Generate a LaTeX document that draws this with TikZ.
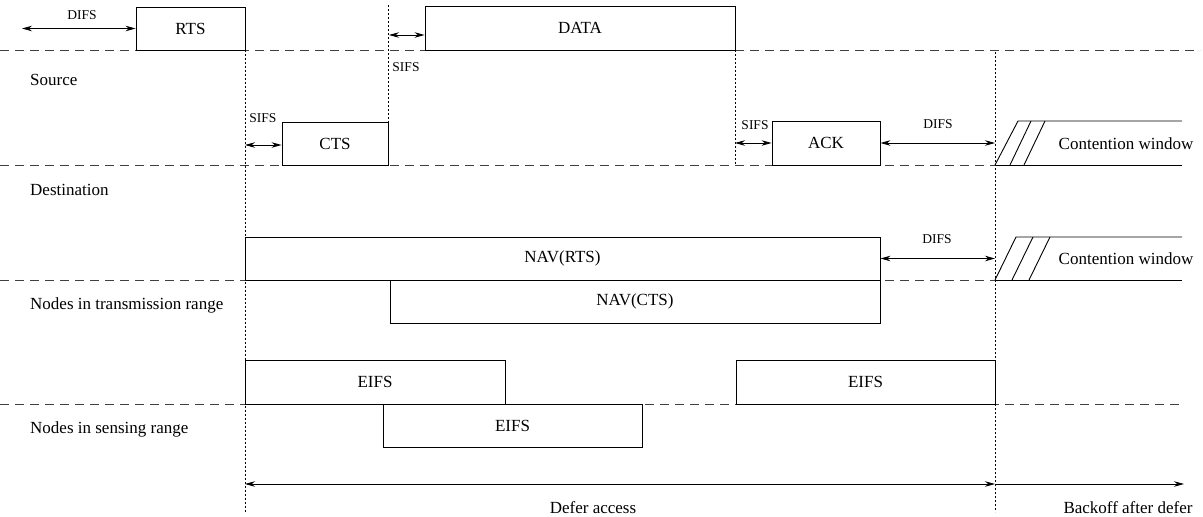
\documentclass[tikz,border=0pt]{standalone}
\usepackage{fontspec}
\setmainfont{Liberation Serif}
\usetikzlibrary{arrows.meta}
\begin{document}
\begin{tikzpicture}[x=1pt,y=-1pt,
  box/.style={draw, line width=0.9pt, inner sep=0pt, font=\fontsize{17}{20}\selectfont},
  lbl/.style={font=\fontsize{17}{20}\selectfont, inner sep=0pt},
  small/.style={font=\fontsize{13.5}{16}\selectfont, inner sep=0pt},
  row/.style={dash pattern=on 9pt off 6pt, line width=1pt, black!75},
  vdot/.style={dash pattern=on 2pt off 2pt, line width=0.7pt},
  dbl/.style={{Stealth[length=10pt,width=5.5pt]}-{Stealth[length=10pt,width=5.5pt]}, line width=0.8pt},
  one/.style={-{Stealth[length=10pt,width=5.5pt]}, line width=0.8pt},
  cw/.style={line width=0.9pt}
]
\useasboundingbox (0,0) rectangle (1203,517);

% row separators
\draw[row] (0,50) -- (1200,50);
\draw[row] (0,165) -- (995,165);
\draw[row] (0,280) -- (995,280);
\draw[row] (0,404) -- (1180,404);

% vertical dotted guides
\draw[vdot] (245,50) -- (245,512);
\draw[vdot] (388,5) -- (388,122);
\draw[vdot] (735,50) -- (735,165);
\draw[vdot] (995,52) -- (995,512);

% row labels
\node[lbl, anchor=west] (src) at (30,80) {Source};
\node[lbl, anchor=west] (dst) at (30,190) {Destination};
\node[lbl, anchor=west] (trn) at (30,305) {Nodes in transmission range};
\node[lbl, anchor=west] (sns) at (30,429) {Nodes in sensing range};

% frames
\node[box, minimum width=109pt, minimum height=43pt] (rts) at (190.5,28.5) {RTS};
\node[box, minimum width=310pt, minimum height=44pt] (data) at (580,28) {DATA};
\node[box, minimum width=106pt, minimum height=43pt] (cts) at (335,143.5) {CTS};
\node[box, minimum width=108pt, minimum height=44pt] (ack) at (826,143) {ACK};
\node[box, minimum width=635pt, minimum height=43pt] (navrts) at (562.5,258.5) {NAV(RTS)};
\node[box, minimum width=490pt, minimum height=43pt] (navcts) at (635,301.5) {NAV(CTS)};
\node[box, minimum width=260pt, minimum height=44pt] (eifsa) at (375,382) {EIFS};
\node[box, minimum width=259pt, minimum height=43pt] (eifsb) at (512.5,425.5) {EIFS};
\node[box, minimum width=259pt, minimum height=44pt] (eifsc) at (865.5,382) {EIFS};

% interframe spaces
\coordinate (v995) at (995,0);
\coordinate (d0) at (22,28.5);
\draw[dbl] (d0) -- (rts.west);
\node[small] (difs0) at (82,15) {DIFS};

\coordinate (s1) at (389,35);
\draw[dbl] (s1) -- (s1 -| data.west);
\node[small] (sifs1) at (406,67) {SIFS};

\coordinate (s2) at (245,145);
\draw[dbl] (s2) -- (s2 -| cts.west);
\node[small] (sifs2) at (263,118) {SIFS};

\coordinate (s3) at (735,143);
\draw[dbl] (s3) -- (s3 -| ack.west);
\node[small] (sifs3) at (755,125) {SIFS};

\draw[dbl] (ack.east) -- (ack.east -| v995);
\node[small] (difs1) at (938,124) {DIFS};

\draw[dbl] (navrts.east) -- (navrts.east -| v995);
\node[small] (difs2) at (937,239) {DIFS};

% contention windows
\draw[cw] (995,165) -- (1018,121) -- (1182,121);
\draw[cw] (995,165) -- (1182,165);
\draw[cw] (1010,165) -- (1031,121);
\draw[cw] (1024,165) -- (1045,121);
\node[lbl] (cwa) at (1126,144) {Contention window};

\draw[cw] (995,280) -- (1016,237) -- (1182,237);
\draw[cw] (995,280) -- (1182,280);
\draw[cw] (1012,280) -- (1033,237);
\draw[cw] (1029,280) -- (1050,237);
\node[lbl] (cwb) at (1126,259) {Contention window};

% defer / backoff
\coordinate (da) at (245,484);
\coordinate (db) at (995,484);
\coordinate (dc) at (1184,484);
\draw[dbl] (da) -- (db);
\draw[one] (db) -- (dc);
\node[lbl] (defer) at (593,508) {Defer access};
\node[lbl] (backoff) at (1128,508) {Backoff after defer};
\end{tikzpicture}
\end{document}
